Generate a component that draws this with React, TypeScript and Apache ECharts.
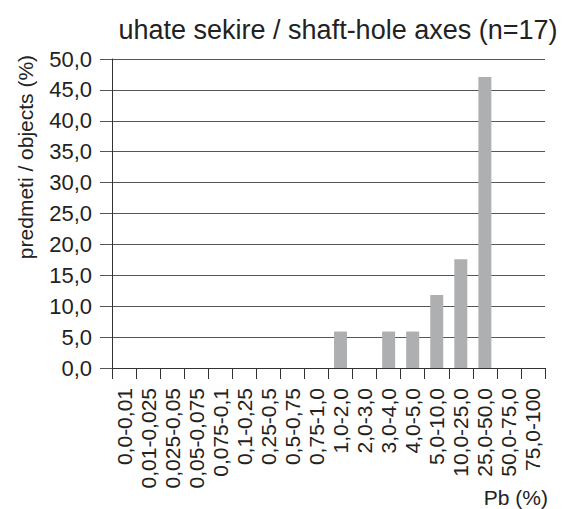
import React, { useEffect, useRef } from "react";
import * as echarts from "echarts";

const title = "uhate sekire / shaft-hole axes (n=17)";
const yName = "predmeti / objects (%)";
const xName = "Pb (%)";
const categories = [
  "0,0-0,01", "0,01-0,025", "0,025-0,05", "0,05-0,075", "0,075-0,1",
  "0,1-0,25", "0,25-0,5", "0,5-0,75", "0,75-1,0", "1,0-2,0", "2,0-3,0",
  "3,0-4,0", "4,0-5,0", "5,0-10,0", "10,0-25,0", "25,0-50,0", "50,0-75,0", "75,0-100",
];
const values = [0, 0, 0, 0, 0, 0, 0, 0, 0, 5.9, 0, 5.9, 5.9, 11.8, 17.6, 47.1, 0, 0];
const yMin = 0;
const yMax = 50;
const yStep = 5;

const FONT = "Liberation Sans, Arial, sans-serif";

export default function App() {
  const ref = useRef<HTMLDivElement>(null);
  useEffect(() => {
    document.body.style.margin = "0";
    if (!ref.current) return;
    const chart = echarts.init(ref.current, undefined, { renderer: "svg" });
    chart.setOption({
      animation: false,
      backgroundColor: "#ffffff",
      textStyle: { fontFamily: FONT },
      title: {
        text: title,
        left: 333,
        textAlign: "center",
        top: 11,
        textStyle: { fontFamily: FONT, fontSize: 27, fontWeight: "normal", color: "#222" },
      },
      grid: { left: 112, right: 18, top: 59, height: 309 },
      xAxis: {
        type: "category",
        data: categories,
        axisLine: { lineStyle: { color: "#333", width: 1 } },
        axisTick: { show: true, length: 11, alignWithLabel: false, lineStyle: { color: "#333" } },
        axisLabel: {
          rotate: 90,
          interval: 0,
          margin: 20,
          fontFamily: FONT,
          fontSize: 21,
          color: "#222",
        },
        splitLine: { show: false },
      },
      yAxis: {
        type: "value",
        min: yMin,
        max: yMax,
        interval: yStep,
        axisLine: { show: true, lineStyle: { color: "#333", width: 1 } },
        axisTick: { show: true, length: 12, lineStyle: { color: "#555" } },
        axisLabel: {
          margin: 20,
          fontFamily: FONT,
          fontSize: 22,
          color: "#222",
          formatter: (v: number) => v.toFixed(1).replace(".", ","),
        },
        splitLine: { show: true, lineStyle: { color: "#555", width: 1 } },
      },
      series: [
        {
          type: "bar",
          data: values,
          barWidth: 13,
          itemStyle: { color: "#aeafb1" },
        },
      ],
      graphic: [
        {
          type: "text",
          x: 25,
          y: 157,
          rotation: Math.PI / 2,
          style: {
            text: yName,
            fontFamily: FONT,
            fontSize: 21,
            fill: "#222",
            textAlign: "center",
            textVerticalAlign: "middle",
          },
        },
        {
          type: "text",
          x: 548,
          y: 497,
          style: {
            text: xName,
            fontFamily: FONT,
            fontSize: 21,
            fill: "#222",
            textAlign: "right",
            textVerticalAlign: "middle",
          },
        },
      ],
    });
    return () => chart.dispose();
  }, []);
  return <div ref={ref} style={{ width: 563, height: 509 }} />;
}
